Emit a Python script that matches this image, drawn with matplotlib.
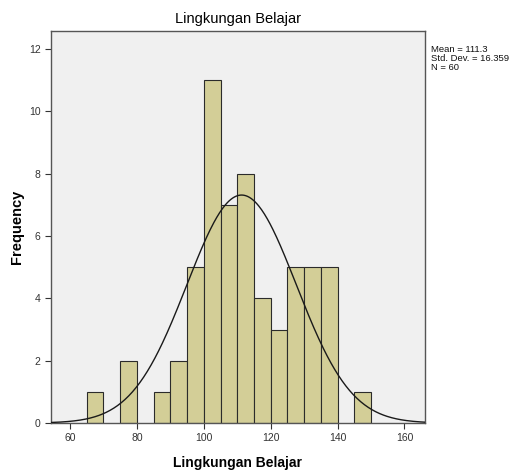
import matplotlib

matplotlib.use("Agg")

import matplotlib.pyplot as plt
import numpy as np

# histogram data (bin width 5)
bin_left = [65, 75, 85, 90, 95, 100, 105, 110, 115, 120, 125, 130, 135, 145]
counts = [1, 2, 1, 2, 5, 11, 7, 8, 4, 3, 5, 5, 5, 1]
BIN_WIDTH = 5

MEAN = 111.3
STD = 16.359
N = 60

x_ticks = [60, 80, 100, 120, 140, 160]
y_ticks = [0, 2, 4, 6, 8, 10, 12]

plt.rcParams["font.family"] = ["Liberation Sans", "DejaVu Sans"]

fig = plt.figure(figsize=(5.13, 4.70), dpi=100)
ax = fig.add_axes([0.0994, 0.1, 0.7281, 0.834])
ax.set_facecolor("#f0f0f0")

ax.bar(bin_left, counts, width=BIN_WIDTH, align="edge",
       color="#d3ce97", edgecolor="#2b2b2b", linewidth=0.8, zorder=2)

xs = np.linspace(54.3, 166, 400)
ys = N * BIN_WIDTH / (STD * np.sqrt(2 * np.pi)) * np.exp(-0.5 * ((xs - MEAN) / STD) ** 2)
ax.plot(xs, ys, color="#1a1a1a", linewidth=1.0, zorder=3)

ax.set_xlim(54.3, 166)
ax.set_ylim(0, 12.58)
ax.set_xticks(x_ticks)
ax.set_yticks(y_ticks)
ax.tick_params(axis="both", labelsize=7.5, colors="#333333", length=4, width=0.8,
               direction="out")
for sp in ax.spines.values():
    sp.set_color("#555555")
    sp.set_linewidth(1.0)

ax.set_xlabel("Lingkungan Belajar", fontsize=10, fontweight="bold")
ax.set_ylabel("Frequency", fontsize=10.5, fontweight="bold")
# place axis titles where the reference has them
ax.xaxis.set_label_coords(0.5, -0.085)
ax.yaxis.set_label_coords(-0.072, 0.5)
ax.set_title("Lingkungan Belajar", fontsize=10.5, pad=6)

fig.text(0.84, 0.905, f"Mean = {MEAN}\nStd. Dev. = {STD}\nN = {N}",
         fontsize=6.8, va="top", ha="left", linespacing=1.0, color="#111111")

fig.savefig("out.png", dpi=100)
